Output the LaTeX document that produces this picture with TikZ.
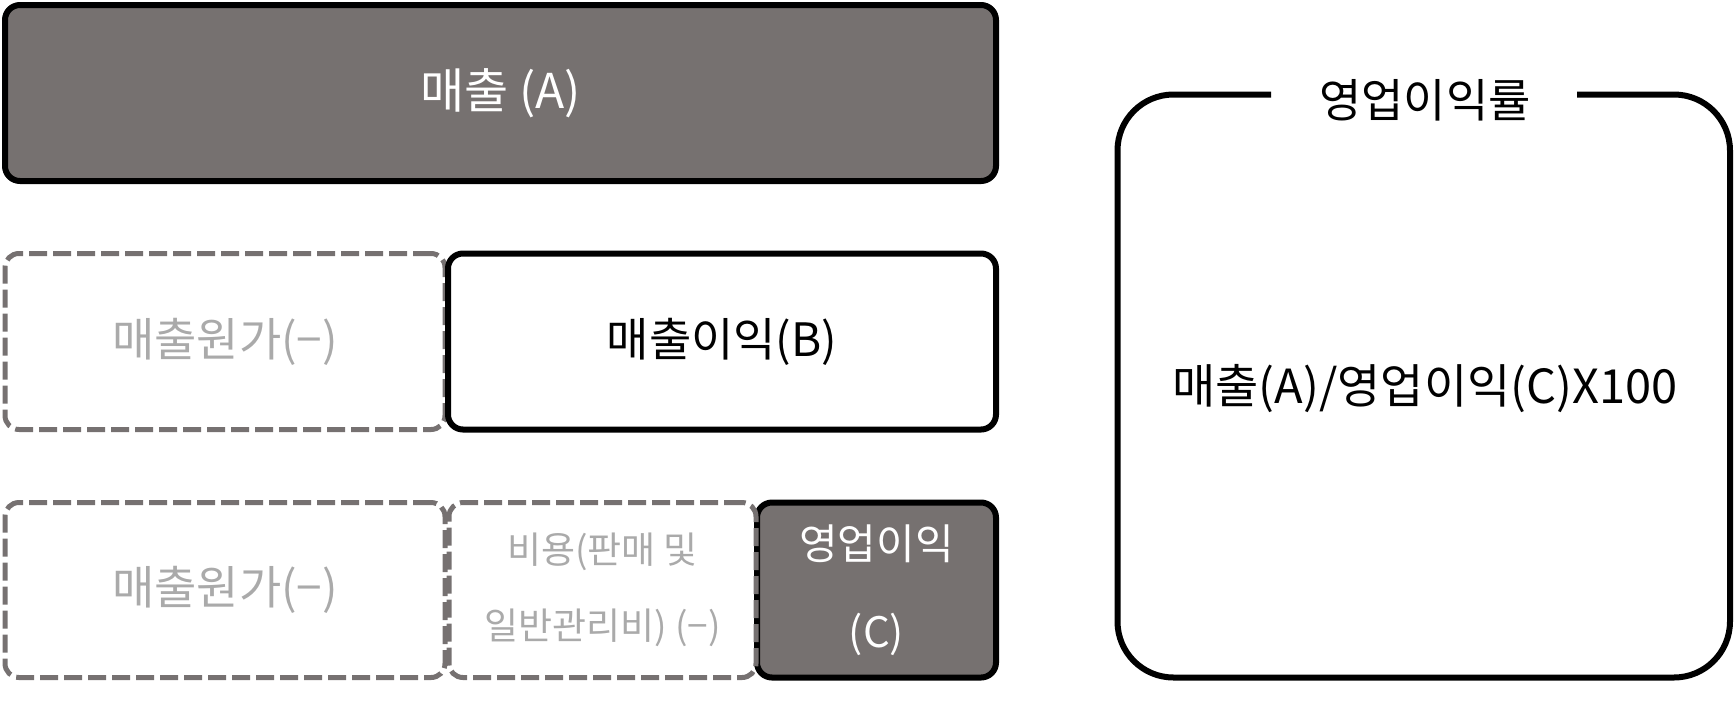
\documentclass[tikz,border=0pt]{standalone}
\usepackage{fontspec}
\setmainfont{Noto Sans CJK KR}
\definecolor{boxgray}{HTML}{767170}
\definecolor{dashgray}{HTML}{767171}
\definecolor{lighttext}{HTML}{AAAAAA}
\tikzset{
  solidbox/.style={draw=black, line width=3pt, rounded corners=7.5pt, rectangle, inner sep=0pt},
  darkbox/.style={solidbox, fill=boxgray, text=white},
  dashbox/.style={draw=dashgray, line width=2.5pt, dash pattern=on 9pt off 3pt, rounded corners=7pt, rectangle, inner sep=0pt, text=lighttext},
  bigtxt/.style={font=\fontsize{23pt}{27pt}\selectfont},
}
\begin{document}
\begin{tikzpicture}[x=0.5pt,y=-0.5pt]
\useasboundingbox (0,0) rectangle (1736,725);
% row 1
\node[darkbox, minimum width=495.5pt, minimum height=88pt, font=\fontsize{24pt}{28pt}\selectfont] (sales) at (500.5,93) {매출 (A)};
% row 2
\node[dashbox, minimum width=220pt, minimum height=88pt, bigtxt] (cogs1) at (225,341.5) {매출원가(−)};
\node[solidbox, minimum width=274pt, minimum height=88pt, bigtxt] (gross) at (722,341.5) {매출이익(B)};
% row 3
\node[darkbox, minimum width=119.5pt, minimum height=87.5pt, align=center, font=\fontsize{21pt}{44pt}\selectfont] (op) at (876.5,590) {영업이익\\(C)};
\node[dashbox, minimum width=220pt, minimum height=87.5pt, bigtxt] (cogs2) at (225,590) {매출원가(−)};
\node[dashbox, minimum width=153.5pt, minimum height=87.5pt, align=center, font=\fontsize{18.5pt}{38pt}\selectfont] (sga) at (602.5,590) {비용(판매 및\\일반관리비) (−)};
% right box
\node[font=\fontsize{23pt}{27pt}\selectfont] (title) at (1425,100) {영업이익률};
\coordinate (gl) at (1271,94.5);
\coordinate (gr) at (1577,94.5);
\draw[line width=3pt, rounded corners=28pt] (gl) -- (1117.5,94.5) -- (1117.5,677.5) -- (1730,677.5) -- (1730,94.5) -- (gr);
\node[font=\fontsize{23.5pt}{27pt}\selectfont] (formula) at (1425,389) {매출(A)/영업이익(C)X100};
\end{tikzpicture}
\end{document}
